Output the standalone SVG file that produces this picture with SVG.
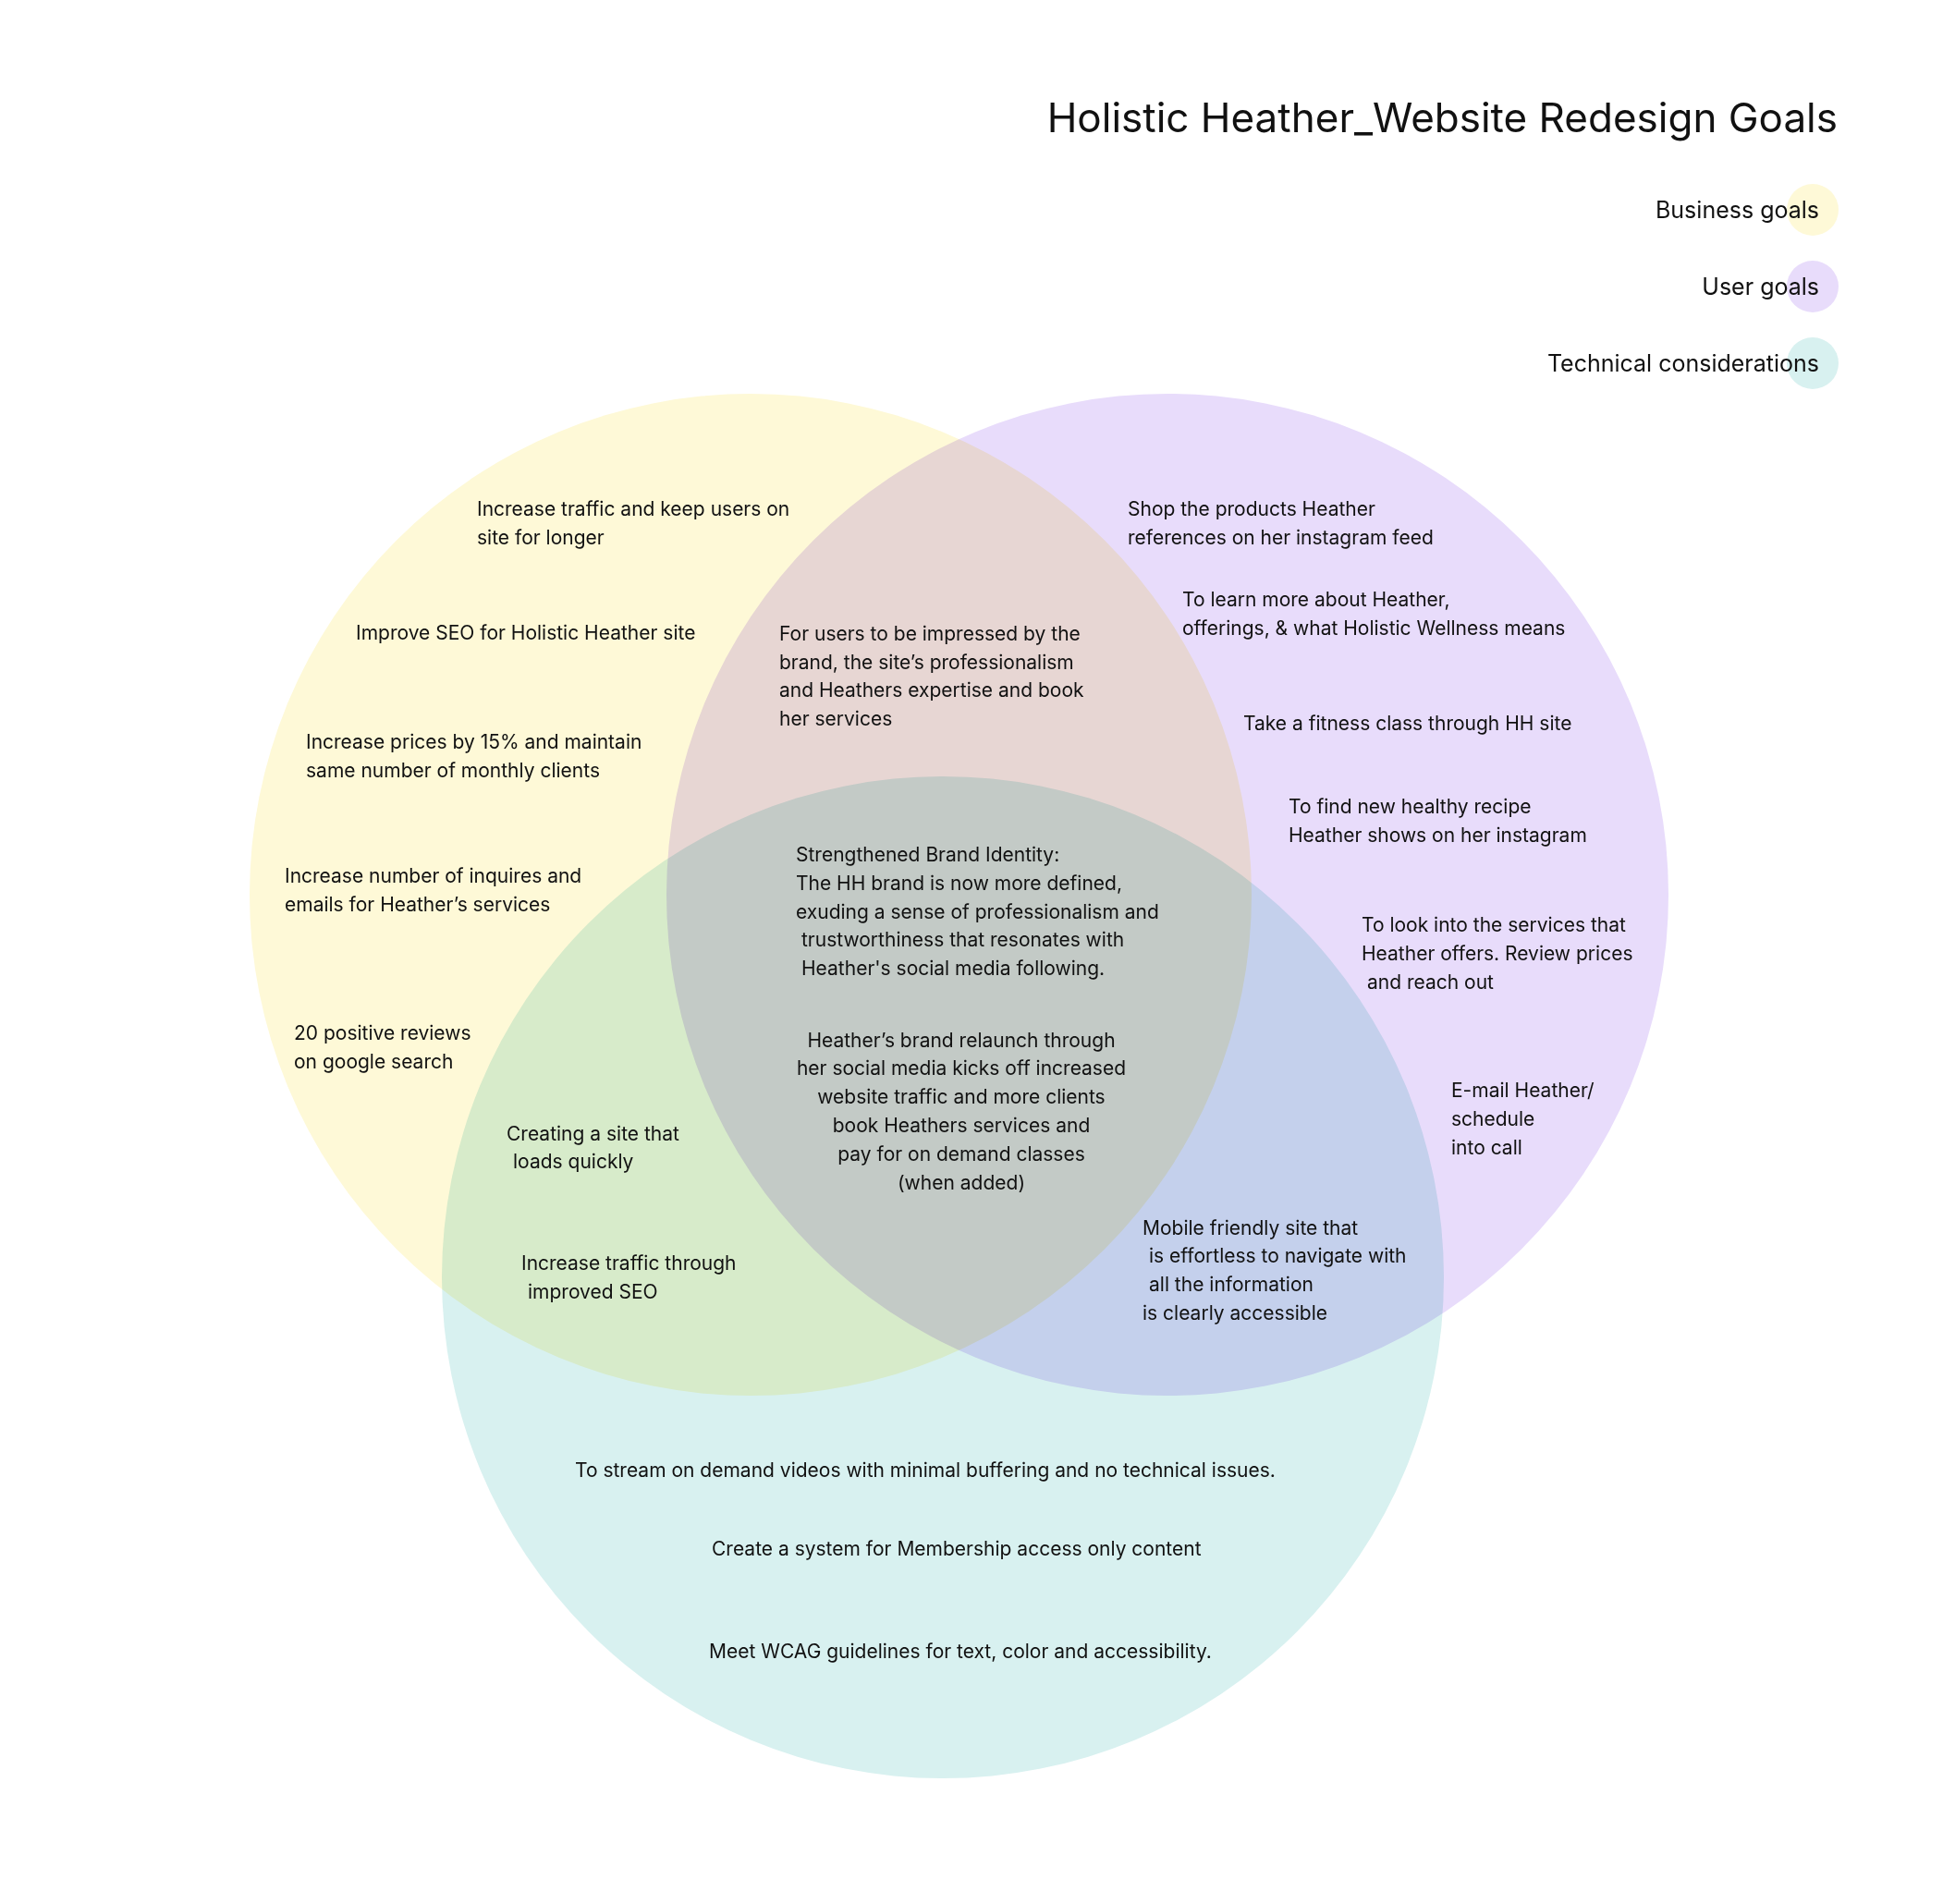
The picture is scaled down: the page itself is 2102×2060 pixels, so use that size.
<svg xmlns="http://www.w3.org/2000/svg" width="2102" height="2060" viewBox="0 0 2102 2060">
<style>
text{font-family:Inter,"Noto Sans","Liberation Sans",sans-serif;fill:#111;}
.b{font-size:21px;}
.c{text-anchor:middle;}
.lg{font-size:25px;text-anchor:end;}
.set{mix-blend-mode:multiply;}
</style>
<rect width="2102" height="2060" fill="#fff"/>
<g id="sets">
<circle id="business" class="set" cx="812" cy="968" r="542" fill="#FEF9D7"/>
<circle id="user" class="set" cx="1263" cy="968" r="542" fill="#E8DCFB"/>
<circle id="technical" class="set" cx="1020" cy="1382" r="542" fill="#D8F1F0"/>
</g>
<g id="title"><text x="1988" y="143" font-size="44" text-anchor="end">Holistic Heather_Website Redesign Goals</text></g>
<g id="legend">
<circle cx="1961" cy="227" r="28" fill="#FEF9D7"/>
<circle cx="1961" cy="310" r="28" fill="#E8DCFB"/>
<circle cx="1961" cy="393" r="28" fill="#D8F1F0"/>
<text class="lg" x="1968" y="236">Business goals</text>
<text class="lg" x="1968" y="319">User goals</text>
<text class="lg" x="1968" y="402">Technical considerations</text>
</g>
<g id="labels" class="b">
<text x="516" y="558">Increase traffic and keep users on</text>
<text x="516" y="589">site for longer</text>
<text x="385" y="692">Improve SEO for Holistic Heather site</text>
<text x="331" y="810">Increase prices by 15% and maintain</text>
<text x="331" y="841">same number of monthly clients</text>
<text x="308" y="955">Increase number of inquires and</text>
<text x="308" y="986">emails for Heather’s services</text>
<text x="318" y="1125">20 positive reviews</text>
<text x="318" y="1156">on google search</text>
<text x="843" y="693">For users to be impressed by the</text>
<text x="843" y="724">brand, the site’s professionalism</text>
<text x="843" y="754">and Heathers expertise and book</text>
<text x="843" y="785">her services</text>
<text x="1220" y="558">Shop the products Heather</text>
<text x="1220" y="589">references on her instagram feed</text>
<text x="1279" y="656">To learn more about Heather,</text>
<text x="1279" y="687">offerings, &amp; what Holistic Wellness means</text>
<text x="1345" y="790">Take a fitness class through HH site</text>
<text x="1394" y="880">To find new healthy recipe</text>
<text x="1394" y="911">Heather shows on her instagram</text>
<text x="1473" y="1008">To look into the services that</text>
<text x="1473" y="1039">Heather offers. Review prices</text>
<text x="1479" y="1070">and reach out</text>
<text x="1570" y="1187">E-mail Heather/</text>
<text x="1570" y="1218">schedule</text>
<text x="1570" y="1249">into call</text>
<text x="861" y="932">Strengthened Brand Identity:</text>
<text x="861" y="963">The HH brand is now more defined,</text>
<text x="861" y="994">exuding a sense of professionalism and</text>
<text x="867" y="1024">trustworthiness that resonates with</text>
<text x="867" y="1055">Heather's social media following.</text>
<text class="c" x="1040" y="1133">Heather’s brand relaunch through</text>
<text class="c" x="1040" y="1163">her social media kicks off increased</text>
<text class="c" x="1040" y="1194">website traffic and more clients</text>
<text class="c" x="1040" y="1225">book Heathers services and</text>
<text class="c" x="1040" y="1256">pay for on demand classes</text>
<text class="c" x="1040" y="1287">(when added)</text>
<text x="548" y="1234">Creating a site that</text>
<text x="555" y="1264">loads quickly</text>
<text x="564" y="1374">Increase traffic through</text>
<text x="571" y="1405">improved SEO</text>
<text x="1236" y="1336">Mobile friendly site that</text>
<text x="1243" y="1366">is effortless to navigate with</text>
<text x="1243" y="1397">all the information</text>
<text x="1236" y="1428">is clearly accessible</text>
<text x="622" y="1598">To stream on demand  videos with minimal buffering and no technical issues.</text>
<text x="770" y="1683">Create a system for Membership access only content</text>
<text x="767" y="1794">Meet WCAG guidelines for text, color and accessibility.</text>
</g>
</svg>
